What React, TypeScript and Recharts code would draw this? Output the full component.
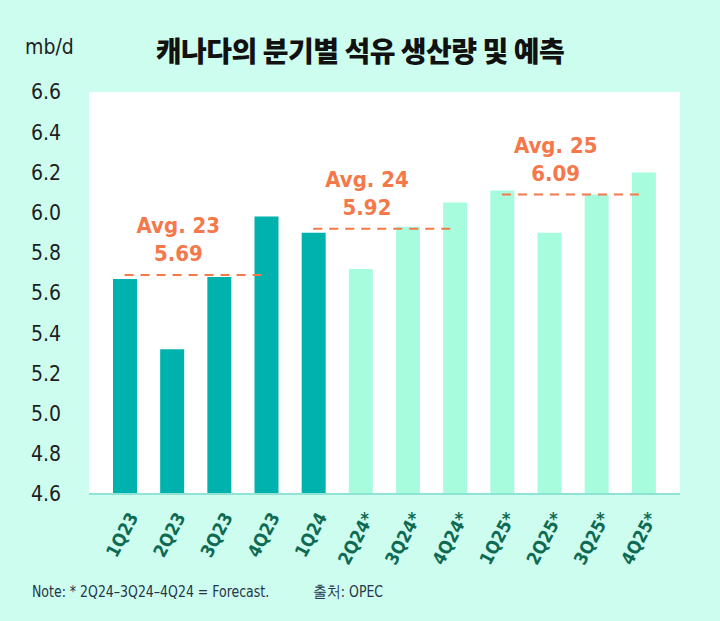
import React from 'react';
import { BarChart, Bar, XAxis, YAxis, CartesianGrid, ReferenceLine, Cell } from 'recharts';

const quarters = ['1Q23', '2Q23', '3Q23', '4Q23', '1Q24', '2Q24*', '3Q24*', '4Q24*', '1Q25*', '2Q25*', '3Q25*', '4Q25*'];
const production = [5.67, 5.32, 5.68, 5.98, 5.9, 5.72, 5.93, 6.05, 6.11, 5.9, 6.09, 6.2];
const forecastFrom = 5;

const yTicks = [4.6, 4.8, 5.0, 5.2, 5.4, 5.6, 5.8, 6.0, 6.2, 6.4, 6.6];

const avgNames = ['Avg. 23', 'Avg. 24', 'Avg. 25'];
const avgValues = [5.69, 5.92, 6.09];
const avgStart = ['1Q23', '1Q24', '1Q25*'];
const avgEnd = ['4Q23', '4Q24*', '4Q25*'];

const data = quarters.map((q, i) => ({ q, value: production[i] }));

const narrow = "'Liberation Sans Narrow', 'DejaVu Sans Condensed', 'Roboto', sans-serif";
const orange = '#F5784A';

const XTick = (props: any) => {
    const { x, y, payload } = props;
    return (
        <g transform={`translate(${x + 9},${y + 12})`}>
            <text
                textAnchor="end"
                transform="rotate(-62)"
                fill="#0E6A52"
                fontFamily={narrow}
                fontWeight="bold"
                fontSize={18}
                dy={6}
            >
                {payload.value}
            </text>
        </g>
    );
};

const avgLabel = (name: string, value: number) => (props: any) => {
    const vb = props.viewBox || {};
    const cx = vb.x + (vb.width || 0) / 2 - 17;
    const y = vb.y;
    return (
        <g>
            <text x={cx} y={y - 42} textAnchor="middle" fill={orange} fontFamily={narrow} fontWeight="bold" fontSize={22}>
                {name}
            </text>
            <text x={cx} y={y - 14} textAnchor="middle" fill={orange} fontFamily={narrow} fontWeight="bold" fontSize={22}>
                {value.toFixed(2)}
            </text>
        </g>
    );
};

const footStyle: React.CSSProperties = {
    position: 'absolute',
    top: 582,
    fontFamily: narrow,
    fontSize: 16,
    color: '#24364A',
    whiteSpace: 'nowrap',
    transform: 'scaleX(0.87)',
    transformOrigin: 'left center',
};

export default function App() {
    return (
        <div style={{ position: 'absolute', left: 0, top: 0, width: 720, height: 621, background: '#CDFDEE', overflow: 'hidden' }}>
            <div style={{ position: 'absolute', left: 0, top: 30, width: 720, textAlign: 'center', fontFamily: "'Noto Sans CJK KR', sans-serif", fontWeight: 900, fontSize: 28, color: '#111', letterSpacing: -0.5 }}>
                캐나다의 분기별 석유 생산량 및 예측
            </div>
            <div style={{ position: 'absolute', left: 25, top: 35, fontFamily: narrow, fontSize: 21, color: '#222' }}>
                mb/d
            </div>
            <BarChart
                width={720}
                height={621}
                data={data}
                margin={{ top: 92, right: 40, left: 29, bottom: 47 }}
                barCategoryGap={0}
            >
                <CartesianGrid horizontal={false} vertical={false} fill="#FFFFFF" />
                <XAxis
                    dataKey="q"
                    interval={0}
                    height={80}
                    padding={{ left: 12, right: 13 }}
                    axisLine={{ stroke: '#8FE3D4', strokeWidth: 2 }}
                    tickLine={false}
                    tick={<XTick />}
                />
                <YAxis
                    domain={[4.6, 6.6]}
                    ticks={yTicks}
                    width={60}
                    axisLine={false}
                    tickLine={false}
                    tickSize={0}
                    tickMargin={28}
                    allowDataOverflow
                    tickFormatter={(v) => v.toFixed(1)}
                    tick={{ fill: '#1E1E1E', fontSize: 21, fontFamily: narrow }}
                />
                <Bar dataKey="value" barSize={24} isAnimationActive={false}>
                    {data.map((d, i) => (
                        <Cell key={d.q} fill={i < forecastFrom ? '#00B2AE' : '#A6FCDC'} />
                    ))}
                </Bar>
                {avgValues.map((v, i) => (
                    <ReferenceLine
                        key={avgNames[i]}
                        segment={[
                            { x: avgStart[i], y: v },
                            { x: avgEnd[i], y: v },
                        ]}
                        stroke={orange}
                        strokeWidth={2}
                        strokeDasharray="9 7"
                        label={avgLabel(avgNames[i], v)}
                    />
                ))}
            </BarChart>
            <div style={{ ...footStyle, left: 32 }}>
                Note: * 2Q24–3Q24–4Q24 = Forecast.
            </div>
            <div style={{ ...footStyle, left: 313 }}>
                출처: OPEC
            </div>
        </div>
    );
}
